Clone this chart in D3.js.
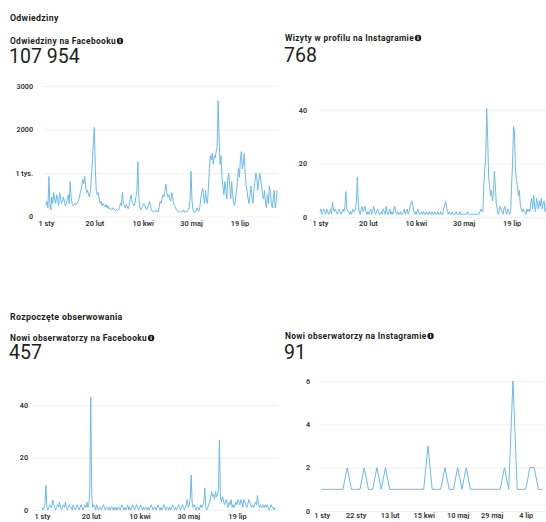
<!DOCTYPE html>
<html><head><meta charset="utf-8">
<script src="https://cdn.jsdelivr.net/npm/d3@7"></script>
<style>
body{margin:0;background:#fff;}
svg{display:block;font-family:Roboto,"Open Sans",sans-serif;}
</style>
</head><body><svg id="c" width="546" height="522"></svg>
<script>
// ---------- DATA ----------
const startDate = "2024-01-01";
const dayCount = 240;

const fbVisits = [
 250,350,200,920,300,150,450,300,550,400,
 300,500,400,250,550,450,300,350,450,350,
 250,300,400,500,300,800,450,300,250,280,
 300,280,300,350,400,500,600,700,850,750,
 920,700,550,600,500,450,600,900,1300,1700,
 2050,1100,600,500,550,400,300,350,250,300,
 250,220,280,200,250,180,200,170,150,200,
 180,150,130,160,140,150,200,300,250,550,
 300,250,200,280,220,180,250,400,500,350,
 300,250,300,450,600,1260,450,200,150,200,
 250,300,280,200,150,200,250,350,250,150,
 120,100,130,110,150,120,100,200,350,300,
 400,500,450,600,750,550,450,500,400,350,
 550,450,300,250,200,150,120,100,130,110,
 100,120,150,100,120,100,130,150,200,400,
 1040,350,150,100,100,130,200,150,120,200,
 400,550,650,450,300,600,350,300,700,1100,
 1400,1300,1450,1200,1400,1350,1500,1600,2660,1800,
 1200,1400,900,700,500,800,600,400,900,1000,
 700,400,800,500,300,250,400,600,800,1100,
 900,1300,1490,1100,1200,1450,1000,700,580,400,
 300,500,700,450,300,600,800,1000,900,600,
 800,1000,850,700,500,400,600,300,200,500,
 300,700,550,300,200,400,600,200,350,600
];

const igVisits = [
 2,3,1,2,3,2,1,3,2,1,
 2,3,1,5.5,3,2,3,2,1,2,
 3,2,1,2,3,2,4,9.5,3,2,
 2,1,2,1,3,2,2,3,6,15,
 5,2,1,3,4,2,3,4,2,1,
 2,1,2,3,1,2,4,2,1,2,
 3,2,1,1,2,1,3,2,1,4,
 2,1,2,3,1,2,1,3,4,2,
 1,2,1,1,2,1,1,2,3,1,
 2,3,1,2,4,5.5,6,4,2,1,
 2,1,3,2,1,1,2,1,2,1,
 1,2,1,1,2,1,1,2,1,1,
 2,1,1,2,1,1,2,1,1,3,
 4,6,4,2,1,2,1,1,2,1,
 1,1,2,1,1,1,2,1,1,1,
 1,1,1,1,2,1,1,1,1,1,
 1,1,1,1,1,1,1,2,3,2,
 2,12,18,22,40.6,30,15,12,8,10,
 6,9,17,12,5,3,1,2,4,3,
 2,1,3,4,2,1,3,2,1,2,
 12,20,33.8,32,18,14,12,8,10,5,
 3,2,3,2,2,1,3,2,3,2,
 5,7,3,8,4,2,7,5,3,6,
 4,7,3,5,6,2,4,7,3,5
];

const fbFollowers = [
 1,0,1,2,9.5,1,0,1,2,1,
 1,3.8,2,1,0,1,2,1,3,1,
 0,1,2,1,3,1,0,1,2,1,
 1,0,2,1,0,1,2,1,0,1,
 2,1,0,1,2,1,3,1,2,7,
 43,6,1,2,1,0,2,1,0,1,
 1,0,1,2,1,0,1,1,0,1,
 0,1,1,0,1,0,1,0,1,1,
 0,1,2,1,0,1,0,1,2,0,
 1,0,1,2,1,0,1,2,1,0,
 1,2,1,0,1,0,1,1,0,1,
 0,1,2,1,0,1,1,0,1,2,
 1,0,1,0,1,2,1,0,1,1,
 0,1,0,1,2,1,0,1,0,1,
 2,1,0,1,2,1,0,1,2,4,
 1,2,4,13.3,3,1,2,1,0,1,
 1,0,1,2,1,2,3,8.3,1,0,
 1,2,3,5,7,5,6,4,7,5,
 6,8,26.7,5,3,5,4,2,3,4,
 2,1,3,2,4,1,2,1,2,3,
 2,4,3,2,4,3,1,4,3,2,
 1,2,4,3,2,1,2,1,2,3,
 2,5.5,2,1,2,1,1,2,1,2,
 1,2,1,0,1,2,1,1,0,1
];

const igFollowers = [
 1,1,1,1,1,1,2,1,1,1,
 2,1,1,2,1,2,1,1,1,1,
 1,1,1,1,1,3,1,1,1,2,
 1,1,2,1,2,1,1,1,1,1,
 1,1,1,2,1,6,1,1,1,2,
 2,1,1
];

const dateTicks = ["2024-01-01","2024-02-20","2024-04-10","2024-05-30","2024-07-19"];
const dateTickLabels = ["1 sty","20 lut","10 kwi","30 maj","19 lip"];
const igFollowerTickIdx = [0,8,16,24,32,40,48];
const igFollowerTickLabels = ["1 sty","22 sty","13 lut","15 kwi","10 maj","29 maj","4 lip"];

const fbVisitYTicks = [0,1000,2000,3000];
const fbVisitYLabels = ["0","1 tys.","2000","3000"];
const igVisitYTicks = [0,20,40];
const fbFollowerYTicks = [0,20,40];
const igFollowerYTicks = [0,2,4,6];

const sectionTitles = ["Odwiedziny","Rozpoczęte obserwowania"];
const panelTitles = ["Odwiedziny na Facebooku","Wizyty w profilu na Instagramie","Nowi obserwatorzy na Facebooku","Nowi obserwatorzy na Instagramie"];
const panelTotals = ["107 954","768","457","91"];

// ---------- DRAW ----------
const svg = d3.select("#c");
const parse = d3.timeParse("%Y-%m-%d");
const d0 = parse(startDate);
const dates = d3.range(dayCount).map(i => d3.timeDay.offset(d0, i));
const LINE = "#6bbaf0";
const INK = "#1c1e21";
const FONT = 'Roboto,"Open Sans",sans-serif';

function heading(x, y, txt){
  svg.append("text").attr("x",x).attr("y",y).attr("font-size",8.8).attr("font-weight",700)
    .attr("letter-spacing",0.3).attr("fill",INK).text(txt);
}
function title(x, y, txt, total, totalY){
  const t = svg.append("text").attr("x",x).attr("y",y).attr("font-size",8.4).attr("font-weight",700)
    .attr("fill",INK).attr("letter-spacing",0.35).text(txt);
  const w = t.node().getComputedTextLength();
  const cx = x + w + 4, cy = y - 3;
  svg.append("circle").attr("cx",cx).attr("cy",cy).attr("r",3.2).attr("fill",INK);
  svg.append("rect").attr("x",cx-0.6).attr("y",cy-0.6).attr("width",1.2).attr("height",2.3).attr("fill","#fff");
  svg.append("rect").attr("x",cx-0.6).attr("y",cy-2.1).attr("width",1.2).attr("height",0.9).attr("fill","#fff");
  svg.append("text").attr("x",x-1).attr("y",totalY).attr("font-size",19.5).attr("fill",INK).text(total);
}

function panel(cfg){
  const g = svg.append("g");
  const y = d3.scaleLinear().domain([0, cfg.yMax]).range([cfg.yBase, cfg.yTop]);
  g.append("g").attr("transform",`translate(${cfg.gridX0},0)`)
    .call(d3.axisLeft(y).tickValues(cfg.yTicks).tickSize(-(cfg.gridX1-cfg.gridX0)).tickFormat(""))
    .call(s => { s.select(".domain").remove(); s.selectAll("line").attr("stroke","#ededed").attr("stroke-width",0.8); });
  g.append("g").attr("transform",`translate(${cfg.labelX},0)`)
    .call(d3.axisLeft(y).tickValues(cfg.yTicks).tickSize(0).tickPadding(0).tickFormat((d,i)=>cfg.yLabels[i]))
    .call(s => { s.select(".domain").remove();
      s.selectAll("text").attr("font-size",7.2).attr("font-weight",600).attr("fill","#333").attr("font-family",FONT); });
  g.append("g").attr("transform",`translate(0,${cfg.xLabelY})`)
    .call(d3.axisBottom(cfg.x).tickValues(cfg.xTicks).tickSize(0).tickPadding(0).tickFormat((d,i)=>cfg.xLabels[i]))
    .call(s => { s.select(".domain").remove();
      s.selectAll("text").attr("font-size",7.4).attr("font-weight",600).attr("fill","#333").attr("font-family",FONT); });
  const line = d3.line().x((d,i)=>cfg.x(cfg.keys[i])).y(d=>y(d));
  g.append("path").datum(cfg.values).attr("d",line).attr("fill","none")
    .attr("stroke",LINE).attr("stroke-width",1).attr("stroke-linejoin","round");
}

heading(10, 21, sectionTitles[0]);
title(10, 44, panelTitles[0], panelTotals[0], 63);
title(285, 41, panelTitles[1], panelTotals[1], 62);
heading(10, 320, sectionTitles[1]);
title(10, 341, panelTitles[2], panelTotals[2], 359);
title(285, 339, panelTitles[3], panelTotals[3], 359);

const tickDates = dateTicks.map(parse);
function timeX(x0, k){ return d3.scaleTime().domain([dates[0], dates[dayCount-1]]).range([x0, x0 + k*(dayCount-1)]); }

panel({x: timeX(46, 0.967), keys: dates, values: fbVisits, xTicks: tickDates, xLabels: dateTickLabels,
  yMax: 3000, yBase: 216.5, yTop: 86, yTicks: fbVisitYTicks, yLabels: fbVisitYLabels,
  labelX: 33, gridX0: 43, gridX1: 278, xLabelY: 221});
panel({x: timeX(320, 0.958), keys: dates, values: igVisits, xTicks: tickDates, xLabels: dateTickLabels,
  yMax: 40, yBase: 217, yTop: 110, yTicks: igVisitYTicks, yLabels: igVisitYTicks.map(String),
  labelX: 307, gridX0: 319, gridX1: 546, xLabelY: 221});
panel({x: timeX(42, 0.975), keys: dates, values: fbFollowers, xTicks: tickDates, xLabels: dateTickLabels,
  yMax: 40, yBase: 510, yTop: 405, yTicks: fbFollowerYTicks, yLabels: fbFollowerYTicks.map(String),
  labelX: 28, gridX0: 33, gridX1: 278, xLabelY: 514});
const idx = d3.range(igFollowers.length);
panel({x: d3.scalePoint().domain(idx).range([321.7, 321.7 + 4.25*(igFollowers.length-1)]), keys: idx,
  values: igFollowers, xTicks: igFollowerTickIdx, xLabels: igFollowerTickLabels,
  yMax: 6, yBase: 511, yTop: 381, yTicks: igFollowerYTicks, yLabels: igFollowerYTicks.map(String),
  labelX: 310, gridX0: 320, gridX1: 546, xLabelY: 513});
</script>
</body></html>
